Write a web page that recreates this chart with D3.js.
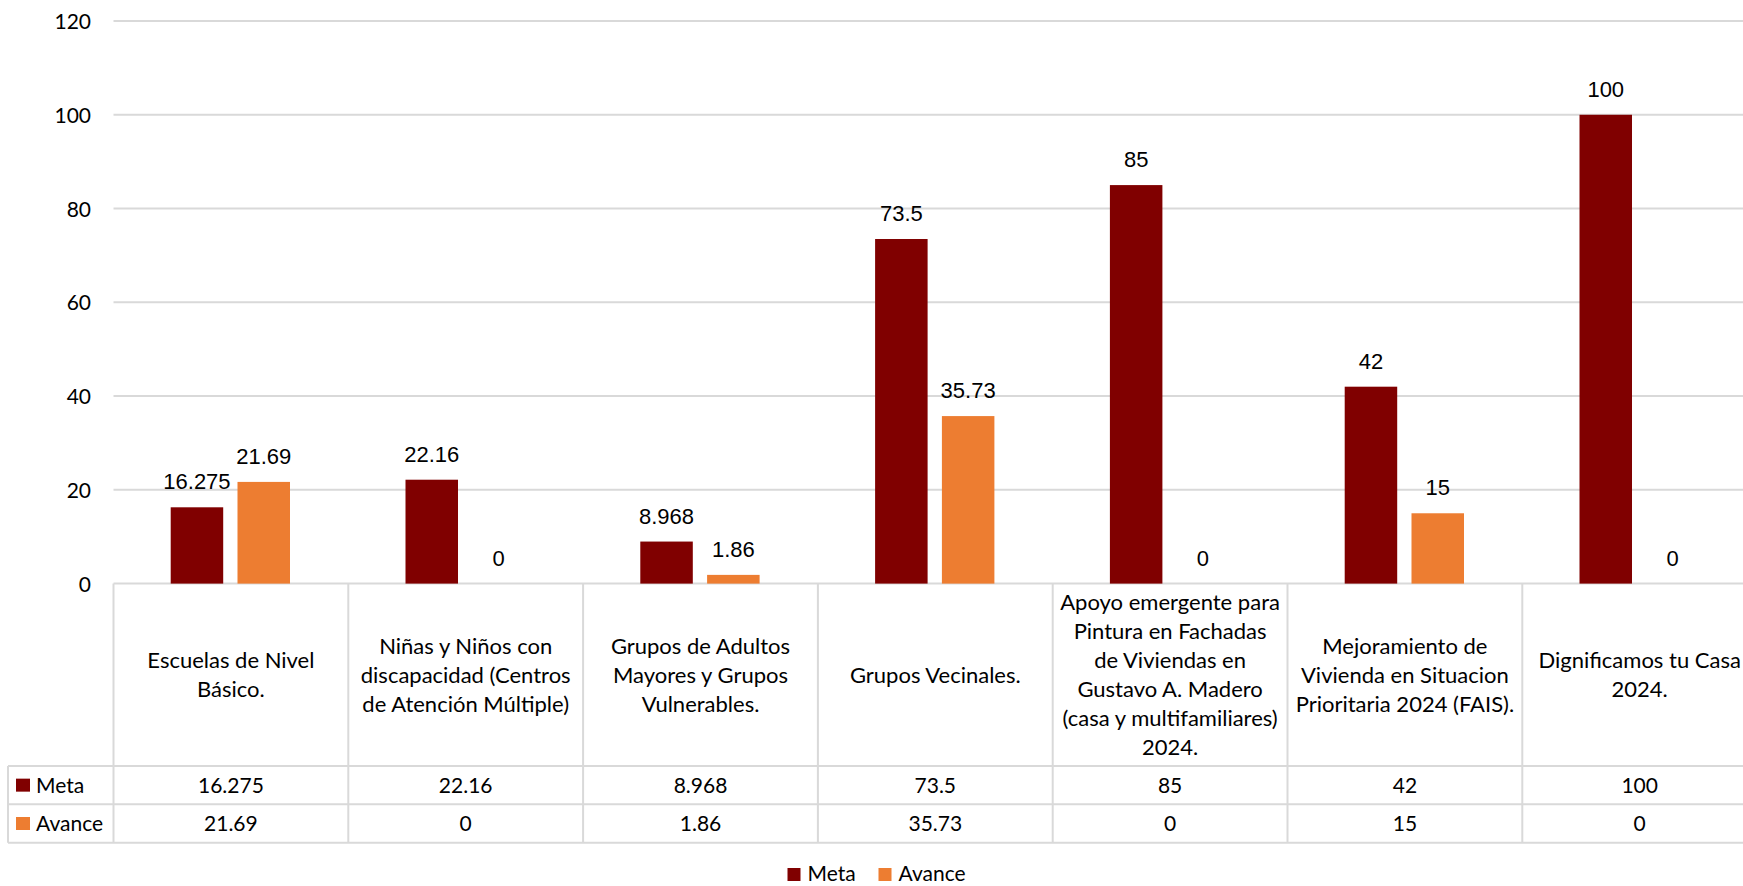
<!DOCTYPE html>
<html>
<head>
<meta charset="utf-8">
<script src="https://cdn.jsdelivr.net/npm/d3@7"></script>
<style>
  html, body { margin: 0; padding: 0; background: #fff; overflow: hidden; }
  svg { display: block; }
</style>
</head>
<body>
<svg id="chart" width="1743" height="886"></svg>
<script>
// ---- DATA ----
const categories = [
  "Escuelas de Nivel Básico.",
  "Niñas y Niños con discapacidad (Centros de Atención Múltiple)",
  "Grupos de Adultos Mayores y Grupos Vulnerables.",
  "Grupos Vecinales.",
  "Apoyo emergente para Pintura en Fachadas de Viviendas en Gustavo A. Madero (casa y multifamiliares) 2024.",
  "Mejoramiento de Vivienda en Situacion Prioritaria 2024 (FAIS).",
  "Dignificamos tu Casa 2024."
];
const categoryLines = [
  ["Escuelas de Nivel", "Básico."],
  ["Niñas y Niños con", "discapacidad (Centros", "de Atención Múltiple)"],
  ["Grupos de Adultos", "Mayores y Grupos", "Vulnerables."],
  ["Grupos Vecinales."],
  ["Apoyo emergente para", "Pintura en Fachadas", "de Viviendas en", "Gustavo A. Madero", "(casa y multifamiliares)", "2024."],
  ["Mejoramiento de", "Vivienda en Situacion", "Prioritaria 2024 (FAIS)."],
  ["Dignificamos tu Casa", "2024."]
];
const seriesNames = ["Meta", "Avance"];
const metaValues   = [16.275, 22.16, 8.968, 73.5, 85, 42, 100];
const avanceValues = [21.69, 0, 1.86, 35.73, 0, 15, 0];
const metaLabels   = ["16.275", "22.16", "8.968", "73.5", "85", "42", "100"];
const avanceLabels = ["21.69", "0", "1.86", "35.73", "0", "15", "0"];
const yTicks = [0, 20, 40, 60, 80, 100, 120];
const seriesColors = ["#800000", "#ed7d31"];

// ---- LAYOUT ----
const svg = d3.select("#chart");
const plotLeft = 113.5, cellW = 234.8;
const plotRight = plotLeft + cellW * categories.length;
const yTop = 21, yZero = 583.6;
const rowY1 = 766, rowY2 = 804.3, rowY3 = 842.7;
const tableLeft = 8;
const gridColor = "#d9d9d9";
const txtFont = "Lato, 'Noto Sans', sans-serif";
const lblFont = "'Liberation Sans', Arial, sans-serif";

const x = d3.scaleBand().domain(categories).range([plotLeft, plotRight]).padding(0);
const xInner = d3.scaleBand().domain(seriesNames).range([57.2, 176.5]).paddingInner(0.214).paddingOuter(0);
const y = d3.scaleLinear().domain([0, 120]).range([yZero, yTop]);

// gridlines
svg.append("g").selectAll("line").data(yTicks).join("line")
  .attr("x1", plotLeft).attr("x2", 1743)
  .attr("y1", d => y(d)).attr("y2", d => y(d))
  .attr("stroke", gridColor).attr("stroke-width", 2);

// y axis labels
const yAxis = d3.axisLeft(y).tickValues(yTicks).tickSize(0).tickPadding(0);
const yg = svg.append("g").attr("transform", `translate(91,0)`).call(yAxis);
yg.select(".domain").remove();
yg.selectAll("text").attr("font-family", txtFont).attr("font-size", 21).attr("fill", "#000").attr("dy", "0.36em");

// bars
const series = [metaValues, avanceValues];
const seriesLabels = [metaLabels, avanceLabels];
series.forEach((vals, si) => {
  const g = svg.append("g");
  g.selectAll("rect").data(vals).join("rect")
    .attr("x", (d, i) => x(categories[i]) + xInner(seriesNames[si]))
    .attr("width", xInner.bandwidth())
    .attr("y", d => y(d))
    .attr("height", d => y(0) - y(d))
    .attr("fill", seriesColors[si]);
  g.selectAll("text").data(vals).join("text")
    .attr("x", (d, i) => x(categories[i]) + xInner(seriesNames[si]) + xInner.bandwidth() / 2)
    .attr("y", d => y(d) - 18)
    .attr("text-anchor", "middle")
    .attr("font-family", lblFont).attr("font-size", 22).attr("fill", "#000")
    .text((d, i) => seriesLabels[si][i]);
});

// ---- DATA TABLE ----
const rowY0 = yZero;
const tg = svg.append("g");
[rowY1, rowY2, rowY3].forEach(yy => {
  tg.append("line").attr("x1", tableLeft).attr("x2", 1743).attr("y1", yy).attr("y2", yy)
    .attr("stroke", gridColor).attr("stroke-width", 2);
});
tg.append("line").attr("x1", tableLeft).attr("x2", tableLeft).attr("y1", rowY1).attr("y2", rowY3)
  .attr("stroke", gridColor).attr("stroke-width", 2);
d3.range(categories.length + 1).forEach(i => {
  const xx = plotLeft + i * x.step();
  tg.append("line").attr("x1", xx).attr("x2", xx).attr("y1", rowY0).attr("y2", rowY3)
    .attr("stroke", gridColor).attr("stroke-width", 2);
});
// header text
const lineH = 29;
categories.forEach((c, i) => {
  const lines = categoryLines[i];
  const cx = x(c) + x.bandwidth() / 2;
  const cy = (rowY0 + rowY1) / 2;
  const t = tg.append("text").attr("text-anchor", "middle")
    .attr("font-family", txtFont).attr("font-size", 22).attr("fill", "#000");
  lines.forEach((ln, k) => {
    t.append("tspan").attr("x", cx)
      .attr("y", cy + (k - (lines.length - 1) / 2) * lineH)
      .attr("dy", "0.36em").text(ln);
  });
});
// value rows
[[metaLabels, rowY1, rowY2], [avanceLabels, rowY2, rowY3]].forEach(([labels, a, b], si) => {
  const cy = (a + b) / 2;
  tg.selectAll(null).data(labels).join("text")
    .attr("x", (d, i) => x(categories[i]) + x.bandwidth() / 2)
    .attr("y", cy).attr("dy", "0.36em")
    .attr("text-anchor", "middle")
    .attr("font-family", txtFont).attr("font-size", 21).attr("fill", "#000")
    .text(d => d);
  tg.append("rect").attr("x", 16).attr("y", cy - 6.5).attr("width", 14).attr("height", 13)
    .attr("fill", seriesColors[si]);
  tg.append("text").attr("x", 36).attr("y", cy).attr("dy", "0.36em")
    .attr("font-family", txtFont).attr("font-size", 21).attr("fill", "#000")
    .text(seriesNames[si]);
});

// ---- LEGEND ----
const lg = svg.append("g");
const legendBase = 881;
const legendX = [787.5, 878.5];
seriesNames.forEach((s, i) => {
  lg.append("rect").attr("x", legendX[i]).attr("y", legendBase - 13).attr("width", 13).attr("height", 13)
    .attr("fill", seriesColors[i]);
  lg.append("text").attr("x", legendX[i] + 20).attr("y", legendBase)
    .attr("font-family", txtFont).attr("font-size", 21).attr("fill", "#000").text(s);
});
</script>
</body>
</html>
